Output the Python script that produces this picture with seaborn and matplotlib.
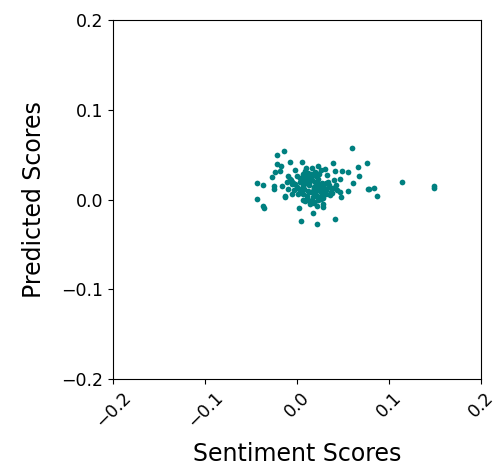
import matplotlib
matplotlib.use("Agg")
import matplotlib.pyplot as plt
import seaborn as sns
import pandas as pd

sentiment = [
    0.0595, -0.0138, -0.0214, 0.0761, -0.0076, 0.0051, -0.0220, -0.0177, 0.0232, 0.0388,
    0.0660, -0.0022, 0.0087, 0.0304, 0.0413, 0.0486, 0.0558, -0.0239, -0.0275, 0.0674,
    0.0467, 0.0406, -0.0432, -0.0366, -0.0250, -0.0250, 0.0612, 0.0775, 0.0558, 0.0467,
    0.0478, -0.0438, -0.0366, -0.0359, 0.0022, 0.0286, 0.0279, 0.0170, 0.0043, 0.0221,
    0.0413, -0.0130, -0.0130, -0.0058, 0.0087, 0.0141, 0.0214, 0.0250, -0.0166, -0.0112,
    -0.0094, -0.0185, -0.0004, 0.0033, 0.0786, 0.0837, 0.0873, 0.1141, 0.1486, 0.1486,
    0.0060, 0.0080, 0.0100, 0.0120, 0.0140, 0.0160, 0.0180, 0.0200, 0.0220, 0.0240,
    0.0260, 0.0280, 0.0300, 0.0320, 0.0070, 0.0090, 0.0110, 0.0130, 0.0150, 0.0170,
    0.0190, 0.0210, 0.0230, 0.0250, 0.0270, 0.0290, 0.0310, 0.0050, 0.0080, 0.0110,
    0.0140, 0.0170, 0.0200, 0.0230, 0.0260, 0.0290, 0.0120, 0.0150, 0.0180, 0.0210,
    0.0240, 0.0100, 0.0130, 0.0160, 0.0190, 0.0220, 0.0020, 0.0040, 0.0350, 0.0370,
    -0.0050, -0.0030, 0.0000, -0.0080, 0.0330, 0.0360, 0.0180, 0.0150, 0.0200, 0.0120,
    0.0010, 0.0060, -0.0100, -0.0060, 0.0390, 0.0340, 0.0260, 0.0090, 0.0160, 0.0230,
    0.0050, 0.0270, 0.0130, 0.0300, 0.0190, -0.0020, 0.0080, 0.0240, 0.0420, 0.0440,
    0.0030, -0.0040, 0.0320, 0.0350, 0.0100, 0.0280, 0.0060, 0.0210, -0.0070, 0.0380,
]
predicted = [
    0.0574, 0.0537, 0.0500, 0.0407, 0.0415, 0.0415, 0.0396, 0.0378, 0.0378, 0.0404,
    0.0359, 0.0333, 0.0322, 0.0341, 0.0322, 0.0322, 0.0304, 0.0304, 0.0248, 0.0263,
    0.0230, 0.0219, 0.0181, 0.0163, 0.0156, 0.0119, 0.0185, 0.0119, 0.0100, 0.0089,
    0.0026, 0.0008, -0.0067, -0.0093, -0.0096, -0.0048, -0.0085, -0.0148, -0.0241, -0.0270,
    -0.0215, 0.0044, 0.0030, 0.0063, -0.0011, -0.0048, -0.0067, 0.0008, 0.0156, 0.0193,
    0.0267, 0.0322, 0.0267, 0.0193, 0.0119, 0.0133, 0.0044, 0.0200, 0.0156, 0.0126,
    0.0150, 0.0120, 0.0180, 0.0100, 0.0220, 0.0080, 0.0140, 0.0200, 0.0110, 0.0170,
    0.0090, 0.0150, 0.0120, 0.0190, 0.0060, 0.0210, 0.0040, 0.0160, 0.0250, 0.0100,
    0.0130, 0.0050, 0.0230, 0.0140, 0.0180, 0.0070, 0.0110, 0.0200, 0.0240, 0.0020,
    0.0270, 0.0030, 0.0090, 0.0160, 0.0010, 0.0130, 0.0000, 0.0290, 0.0060, 0.0260,
    0.0170, 0.0250, 0.0080, 0.0220, 0.0280, 0.0040, 0.0120, 0.0090, 0.0160, 0.0080,
    0.0200, 0.0110, 0.0140, 0.0230, 0.0270, 0.0050, -0.0030, -0.0020, 0.0310, 0.0300,
    0.0060, 0.0000, 0.0120, 0.0170, 0.0130, 0.0200, 0.0330, 0.0280, 0.0350, -0.0010,
    0.0210, 0.0040, 0.0190, 0.0090, -0.0040, 0.0170, 0.0250, 0.0280, 0.0160, 0.0110,
    0.0240, 0.0180, 0.0060, 0.0140, 0.0350, 0.0020, 0.0280, 0.0300, 0.0220, 0.0070,
]

df = pd.DataFrame({"Sentiment Scores": sentiment, "Predicted Scores": predicted})

sns.set_style("ticks")
plt.rcParams["font.family"] = ["DejaVu Sans"]
plt.rcParams["text.color"] = "black"
plt.rcParams["axes.labelcolor"] = "black"
plt.rcParams["xtick.color"] = "black"
plt.rcParams["ytick.color"] = "black"

fig = plt.figure(figsize=(5.03, 4.68), dpi=100)
ax = fig.add_axes([0.225, 0.190, 0.731, 0.767])
sns.scatterplot(data=df, x="Sentiment Scores", y="Predicted Scores", ax=ax,
                color="#008080", s=17, linewidth=0, edgecolor=None)
ax.set_xlim(-0.2, 0.2)
ax.set_ylim(-0.2, 0.2)
ticks = [-0.2, -0.1, 0.0, 0.1, 0.2]
ax.set_xticks(ticks)
ax.set_yticks(ticks)
labels = ["−0.2", "−0.1", "0.0", "0.1", "0.2"]
ax.set_xticklabels(labels, rotation=45, fontsize=12.5)
ax.set_yticklabels(labels, fontsize=12.5)
ax.set_xlabel("Sentiment Scores", fontsize=17, labelpad=8, color="black")
ax.set_ylabel("Predicted Scores", fontsize=17, labelpad=11, color="black")
for sp in ax.spines.values():
    sp.set_visible(True)
    sp.set_color("black")
    sp.set_linewidth(0.8)
ax.tick_params(colors="black", labelcolor="black", length=3.5, width=0.8)
fig.savefig("out.png", dpi=100)
